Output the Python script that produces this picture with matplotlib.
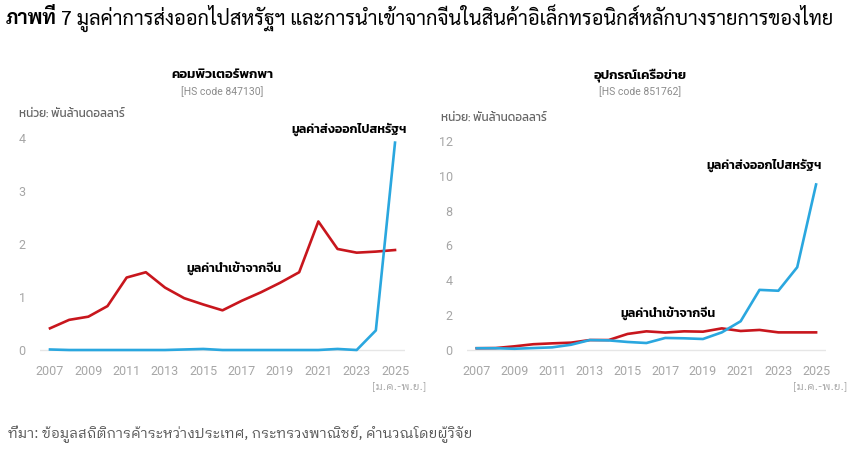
import matplotlib
matplotlib.use('Agg')
import matplotlib.pyplot as plt

# data (billion USD)
years = list(range(2007, 2026))
tick_years = list(range(2007, 2026, 2))

laptop_import_cn = [0.41, 0.57, 0.63, 0.83, 1.37, 1.47, 1.18, 0.98, 0.86, 0.75,
                    0.93, 1.09, 1.27, 1.47, 2.43, 1.91, 1.84, 1.86, 1.89]
laptop_export_us = [0.01, 0.0, 0.0, 0.0, 0.0, 0.0, 0.0, 0.01, 0.02, 0.0,
                    0.0, 0.0, 0.0, 0.0, 0.0, 0.02, 0.0, 0.37, 3.92]

network_import_cn = [0.1, 0.11, 0.21, 0.33, 0.38, 0.42, 0.57, 0.57, 0.92, 1.07,
                     1.0, 1.07, 1.05, 1.24, 1.09, 1.15, 1.01, 1.01, 1.01]
network_export_us = [0.1, 0.1, 0.07, 0.11, 0.15, 0.3, 0.57, 0.55, 0.46, 0.4,
                     0.69, 0.67, 0.63, 1.01, 1.65, 3.45, 3.4, 4.75, 9.5]

W, H = 860, 459
RED = '#c8161d'
BLUE = '#2aa7df'
TICK_GREY = '#a6a6a6'

THAI_BOLD = 'Kanit'
THAI_LOOP = 'IBM Plex Sans Thai Looped'
DIGITS = 'Roboto'


def px(x, y):
    return x / W, 1 - y / H


def make_panel(fig, rect, import_cn, export_us, ylim, yticks):
    ax = fig.add_axes(rect)
    ax.plot(years, import_cn, color=RED, lw=1.9, solid_joinstyle='round', zorder=3)
    ax.plot(years, export_us, color=BLUE, lw=1.9, solid_joinstyle='round', zorder=4)
    ax.axhline(0, color='#e6e6e6', lw=1.0, zorder=1)
    ax.set_xlim(2006.5, 2025.5)
    ax.set_ylim(*ylim)
    ax.set_xticks(tick_years)
    ax.set_xticklabels([str(y) for y in tick_years], family=DIGITS, fontsize=9, color=TICK_GREY)
    ax.set_yticks(yticks)
    ax.set_yticklabels([str(v) for v in yticks], family=DIGITS, fontsize=9, color=TICK_GREY)
    ax.tick_params(length=0, axis='x', pad=7)
    ax.tick_params(length=0, axis='y', pad=10.5)
    for s in ax.spines.values():
        s.set_visible(False)
    ax.patch.set_alpha(0)
    return ax


fig = plt.figure(figsize=(8.6, 4.59), dpi=100)

# left panel: laptops
ax1 = make_panel(fig, [40.4 / W, 103.7 / H, 364.2 / W, 222.2 / H],
                 laptop_import_cn, laptop_export_us, (-0.1, 4.1), [0, 1, 2, 3, 4])
# right panel: network equipment
ax2 = make_panel(fig, [467.3 / W, 103.8 / H, 358.2 / W, 219.5 / H],
                 network_import_cn, network_export_us, (-0.3, 12.3), [0, 2, 4, 6, 8, 10, 12])

# main title (bold lead-in + regular text)
t1 = fig.text(*px(6, 18), 'ภาพที่', family='Sarabun', weight='bold', fontsize=14.4,
              va='center', ha='left')
ax1.annotate('7 มูลค่าการส่งออกไปสหรัฐฯ และการนำเข้าจากจีนในสินค้าอิเล็กทรอนิกส์หลักบางรายการของไทย',
             xy=(1, 0.5), xycoords=t1, xytext=(3, 0), textcoords='offset points',
             va='center', ha='left', family='Sarabun', fontsize=14.4, annotation_clip=False)

# panel headings
fig.text(*px(222, 75), 'คอมพิวเตอร์พกพา', family=THAI_BOLD, weight='semibold', fontsize=9.5,
         ha='center', va='center')
fig.text(*px(222, 92), '[HS code 847130]', family=DIGITS, fontsize=7.5, color='#8c8c8c',
         ha='center', va='center')
fig.text(*px(640, 75), 'อุปกรณ์เครือข่าย', family=THAI_BOLD, weight='semibold', fontsize=9.5,
         ha='center', va='center')
fig.text(*px(640, 92), '[HS code 851762]', family=DIGITS, fontsize=7.5, color='#8c8c8c',
         ha='center', va='center')

# units
fig.text(*px(19, 114), 'หน่วย: พันล้านดอลลาร์', family=THAI_BOLD, weight='normal', fontsize=8.5,
         color='#666666', ha='left', va='center')
fig.text(*px(441, 118), 'หน่วย: พันล้านดอลลาร์', family=THAI_BOLD, weight='normal', fontsize=8.5,
         color='#666666', ha='left', va='center')

# line labels
ax1.text(2025.6, 4.18, 'มูลค่าส่งออกไปสหรัฐฯ', family=THAI_BOLD, weight='semibold',
         fontsize=9, ha='right', va='center')
ax1.text(2016.6, 1.55, 'มูลค่านำเข้าจากจีน', family=THAI_BOLD, weight='semibold',
         fontsize=9, ha='center', va='center')
ax2.text(2025.3, 10.6, 'มูลค่าส่งออกไปสหรัฐฯ', family=THAI_BOLD, weight='semibold',
         fontsize=9, ha='right', va='center')
ax2.text(2017.15, 2.1, 'มูลค่านำเข้าจากจีน', family=THAI_BOLD, weight='semibold',
         fontsize=9, ha='center', va='center')

# partial-year note under 2025
for ax in (ax1, ax2):
    ax.annotate('[ม.ค.-พ.ย.]', xy=(2025, 0), xycoords=('data', 'axes fraction'),
                xytext=(3, -22), textcoords='offset points', family=THAI_LOOP,
                fontsize=8, color=TICK_GREY, ha='center', va='center', annotation_clip=False)

# source
fig.text(*px(8, 434), 'ที่มา: ข้อมูลสถิติการค้าระหว่างประเทศ, กระทรวงพาณิชย์, คำนวณโดยผู้วิจัย',
         family=THAI_LOOP, fontsize=10.2, color='#555555', ha='left', va='center')

fig.savefig('out.png', dpi=100)
